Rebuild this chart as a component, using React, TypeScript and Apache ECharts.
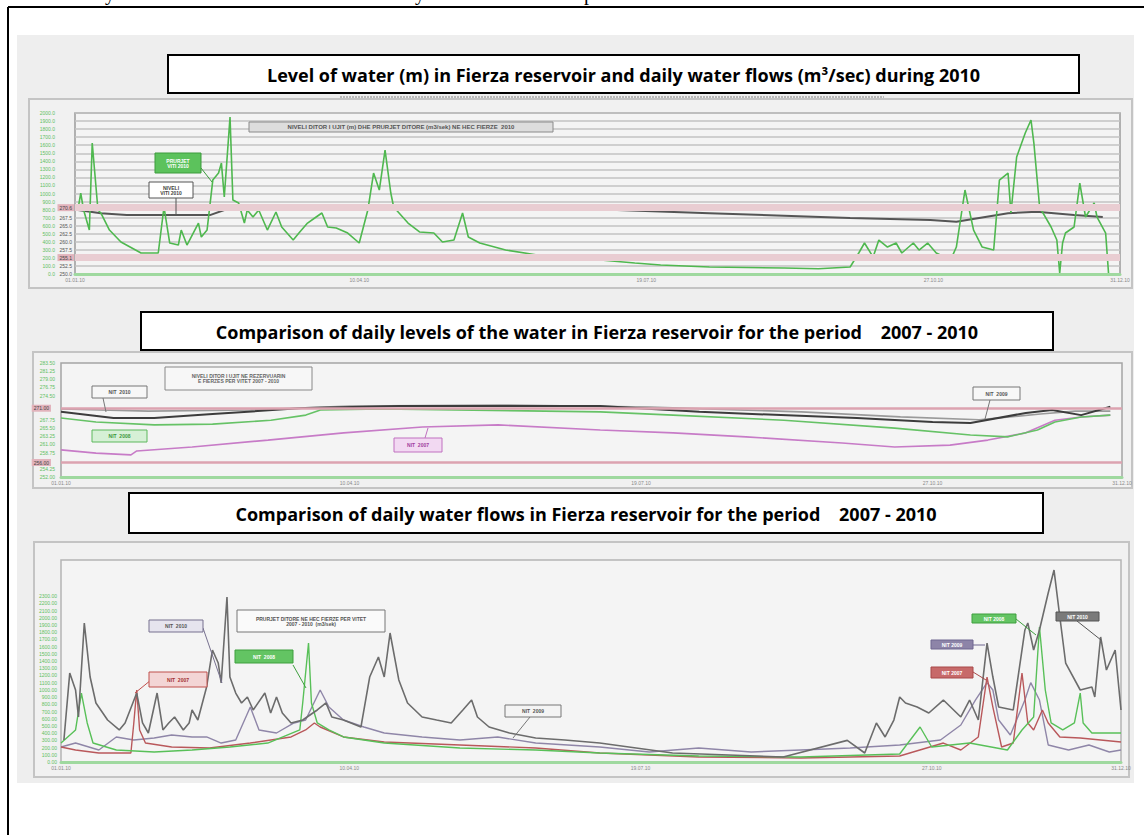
import React, { useEffect, useRef } from 'react';
import * as echarts from 'echarts';

// ---------- Chart 1: daily water flows (m3/sec) and water level (m), 2010 ----------
const flow2010Days = [2,3,4,6,7,9,10,13,17,24,30,32,34,37,38,40,44,45,47,49,51,52,53,55,56,58,60,61,63,65,68,71,73,77,79,82,85,87,89,92,96,100,103,105,107,109,111,112,117,121,126,129,133,136,138,142,151,162,171,184,196,205,222,235,248,260,271,274,276,279,281,284,287,289,293,295,298,301,306,308,311,314,317,321,323,326,327,329,332,334,335,337,341,343,344,345,346,349,351,353,356,357,360,361];
const flow2010Values = [795,1006,795,546,1627,795,758,546,397,261,261,832,385,360,546,360,633,459,546,1167,1254,1378,956,1950,919,882,633,795,708,795,546,770,584,422,509,633,708,758,584,571,509,385,795,1254,1043,1540,1006,832,633,522,509,397,422,758,459,385,298,236,211,174,137,112,87,81,75,65,87,261,385,211,422,335,385,261,385,298,385,261,174,335,1043,546,335,298,1167,1254,758,1453,1751,1913,1627,832,584,422,12,385,509,584,1130,708,882,708,509,12];
const level2010Days = [2,10,19,48,56,92,103,142,170,222,271,299,308,326,336,349,359];
const level2010Values = [269.9,268.9,268.3,268.3,270.8,270.8,271.1,271.1,270.5,268.9,267.4,266.8,266.2,268.9,269.3,268.3,267.7];
const chart1RefLevels = [270.6, 255.1];

// ---------- Chart 2: daily water levels (m), 2007 - 2010 ----------
const lv2010Days = [1,19,33,53,85,117,186,220,274,300,313,332,341,351,361];
const lv2010Values = [270.0,268.3,268.3,269.4,271.1,271.6,271.6,270.0,268.3,267.2,266.9,269.7,270.5,269.1,271.4];
const lv2009Days = [1,31,66,100,152,203,255,289,316,337,349,361];
const lv2009Values = [270.8,270.2,270.5,271.6,271.9,271.3,270.0,268.6,267.8,269.4,270.2,270.2];
const lv2008Days = [1,13,33,53,73,85,90,111,186,211,249,287,313,326,336,342,351,361];
const lv2008Values = [268.3,267.2,266.4,266.6,267.7,269.1,270.5,270.8,270.0,269.1,267.7,265.5,263.6,263.1,265.0,267.2,268.6,269.1];
const lv2007Days = [1,13,25,27,46,72,98,125,151,186,211,236,269,287,306,319,332,342,351,361];
const lv2007Values = [259.5,258.6,258.1,259.2,260.3,262.2,264.2,265.8,266.4,265.0,264.2,263.1,261.4,260.3,260.8,262.2,264.2,267.7,268.6,269.1];
const chart2RefLevels = [271, 256];

// ---------- Chart 3: daily water flows (m3/sec), 2007 - 2010 ----------
const q2010Days = [2,4,6,7,9,11,13,17,21,23,27,29,31,34,36,38,40,43,45,46,48,51,53,55,56,58,59,61,63,65,67,71,73,75,77,80,84,89,92,94,98,104,107,110,112,114,117,120,125,130,135,139,142,144,148,155,164,174,186,211,249,271,277,281,284,287,289,291,295,299,304,310,313,316,319,321,323,328,332,333,335,337,340,342,344,346,351,355,356,358,360,363,365];
const q2010Values = [305,1234,998,624,1927,1178,818,582,444,541,956,541,402,956,444,541,624,444,541,721,582,1040,1552,1372,1095,2287,1178,956,818,901,721,956,679,901,679,541,582,721,818,624,582,485,1178,1455,1178,1788,1137,818,624,582,541,721,859,624,485,402,333,305,263,125,69,300,125,541,347,582,901,818,762,679,859,624,859,582,1649,1178,762,721,1830,1927,1552,1830,2342,2661,2010,1372,998,1040,901,1733,1275,1552,721];
const q2009Days = [1,6,14,20,26,33,39,46,51,56,61,66,69,75,81,85,90,93,98,105,112,125,138,151,164,186,203,220,238,255,272,289,303,310,315,319,321,323,327,332,334,337,340,347,354,361,365];
const q2009Values = [208,263,166,347,305,333,374,347,347,263,305,762,444,402,541,582,998,762,582,485,402,347,305,347,263,208,139,194,139,166,194,236,305,513,859,1100,998,582,374,859,1100,859,236,166,236,139,166];
const q2007Days = [1,6,14,25,26,27,28,30,39,52,66,80,85,88,90,98,112,138,164,186,220,255,289,304,310,316,319,321,324,328,331,333,335,338,340,344,351,358,365];
const q2007Values = [208,166,125,125,541,998,444,263,208,194,263,347,444,541,485,347,277,236,194,125,69,55,83,263,166,347,1178,762,208,263,1234,541,444,721,541,347,333,305,277];
const q2008Days = [1,6,8,10,12,20,33,46,59,72,83,84,86,87,89,93,98,112,138,164,186,220,255,289,296,300,313,326,331,335,337,339,341,345,349,351,352,355,365];
const q2008Values = [263,444,956,541,263,166,139,166,208,263,444,818,1649,818,541,444,347,263,194,166,125,83,69,111,485,208,263,166,444,624,1871,998,541,444,541,956,541,402,402];

// ---------- texts ----------
const title1 = 'Level of water (m) in Fierza reservoir and daily water flows (m³/sec) during 2010';
const title2 = 'Comparison of daily levels of the water in Fierza reservoir for the period    2007 - 2010';
const title3 = 'Comparison of daily water flows in Fierza reservoir for the period    2007 - 2010';

const zip = (d: number[], v: number[]) => d.map((x, i) => [x, v[i]]);

const C = {
  g2010: '#4fb84f', lev: '#555555',
  l2010: '#3c3c3c', l2009: '#9a9a9a', l2008: '#66c266', l2007: '#c77bc7',
  f2010: '#6c6c6c', f2009: '#8f86a8', f2007: '#b9585b', f2008: '#58c058',
  pink: '#e9cdd2', axGreen: '#5fbf5f',
};

const box = (x: number, y: number, w: number, h: number, fill: string, stroke: string | null, lw = 1, z = -5) => ({
  type: 'rect', z, silent: true, shape: { x, y, width: w, height: h },
  style: { fill, stroke: stroke || undefined, lineWidth: stroke ? lw : 0 },
});
const txt = (x: number, y: number, text: string, font: string, fill: string, align = 'center', z = 60) => ({
  type: 'text', z, silent: true, x, y,
  style: { text, font, fill, align, verticalAlign: 'middle', textAlign: align, textVerticalAlign: 'middle' },
});
const seg = (x1: number, y1: number, x2: number, y2: number, stroke: string, lw = 1, z = 55, dash?: number[]) => ({
  type: 'line', z, silent: true, shape: { x1, y1, x2, y2 },
  style: { stroke, lineWidth: lw, lineDash: dash },
});
const tag = (x: number, y: number, w: number, h: number, text: string, fill: string, stroke: string, color: string, fs = 5) => [
  box(x, y, w, h, fill, stroke, 1, 58),
  txt(x + w / 2, y + h / 2, text, `bold ${fs}px "Liberation Sans"`, color),
];
const titleBox = (x: number, y: number, w: number, h: number, text: string) => [
  box(x, y, w, h, '#ffffff', '#000000', 2, 50),
  txt(x + w / 2, y + h / 2 + 1, text, 'bold 18px "Open Sans"', '#000000', 'center', 61),
];

const dayLabel = (v: number) => {
  const d = new Date(2010, 0, Math.round(v));
  return String(d.getDate()).padStart(2, '0') + '.' + String(d.getMonth() + 1).padStart(2, '0') + '.10';
};

const xAxisBase = (gridIndex: number) => ({
  type: 'value', gridIndex, min: 1, max: 365,
  axisLine: { show: true, lineStyle: { color: '#9fd99f', width: 3 } },
  axisTick: { show: false },
  splitLine: { show: false },
  axisLabel: { fontSize: 5, color: '#8a8a8a', margin: 3, formatter: dayLabel },
});

const refMarkLine = (vals: number[], width: number, color: string, labelDist: number, digits: number) => ({
  silent: true, symbol: 'none',
  lineStyle: { color, width, type: 'solid' },
  label: {
    show: true, position: 'start', distance: labelDist, fontSize: 5, color: '#444',
    backgroundColor: '#e2b3bc', padding: [1, 2], formatter: (p: any) => Number(p.value).toFixed(digits),
  },
  data: vals.map((v) => ({ yAxis: v })),
});

const nearRef = (v: number, refs: number[], tol: number) => refs.some((r) => Math.abs(v - r) < tol);

function buildOption() {
  const graphic: any[] = [
    // fragments of the text line above the figure
    txt(110, -7, 'y', '20px "Liberation Serif"', '#000', 'center', 70),
    txt(420, -7, 'y', '20px "Liberation Serif"', '#000', 'center', 70),
    txt(589, -7, 'p', '20px "Liberation Serif"', '#000', 'center', 70),
    // outer page frame
    seg(8, 7, 1144, 7, '#000', 2, 70),
    seg(8, 7, 8, 835, '#000', 2, 70),
    // grey scanned panel
    box(17, 35, 1117, 748, '#eeeeee', null, 0, -20),
    // chart frames
    box(29, 99, 1103, 189, '#f1f1f1', '#c4c4c4', 2, -10),
    box(33, 352, 1099, 136, '#f1f1f1', '#c4c4c4', 2, -10),
    box(34, 542, 1095, 235, '#f1f1f1', '#c4c4c4', 2, -10),
    // faint original sub-title line of chart 1
    seg(340, 97, 884, 97, '#b8b8b8', 2, 20, [2, 1]),
    ...titleBox(168, 55, 911, 38, title1),
    ...titleBox(141, 312, 912, 38, title2),
    ...titleBox(129, 493, 914, 40, title3),
    // chart 1 annotations
    ...tag(249, 122, 304, 10, 'NIVELI DITOR I UJIT (m) DHE PRURJET DITORE (m3/sek) NE HEC FIERZE  2010', '#dddddd', '#8a8a8a', '#555', 6),
    ...tag(155, 153, 46, 20, 'PRURJET\nVITI 2010', '#5cc25c', '#3d9b3d', '#ffffff'),
    seg(201, 168, 212, 182, '#3d9b3d', 1),
    ...tag(149, 182, 44, 16, 'NIVELI\nVITI 2010', '#ffffff', '#555555', '#444'),
    seg(176, 198, 176, 214, '#555555', 1),
    // chart 2 annotations
    ...tag(165, 367, 147, 23, 'NIVELI DITOR I UJIT NE REZERVUARIN\nE FIERZES PER VITET 2007 - 2010', '#f7f7f7', '#888888', '#666'),
    ...tag(92, 386, 55, 12, 'NIT  2010', '#f7f7f7', '#777777', '#555'),
    seg(103, 398, 106, 412, '#777777', 1),
    ...tag(92, 430, 55, 12, 'NIT  2008', '#d6f0d6', '#5cb85c', '#3c983c'),
    ...tag(394, 438, 48, 14, 'NIT  2007', '#f2d9f2', '#c070c0', '#a040a0'),
    seg(425, 438, 428, 428, '#c070c0', 1),
    ...tag(973, 387, 47, 13, 'NIT  2009', '#f7f7f7', '#777777', '#555'),
    seg(990, 400, 985, 419, '#777777', 1),
    // chart 3 annotations
    ...tag(237, 610, 148, 22, 'PRURJET DITORE NE HEC FIERZE PER VITET\n2007 - 2010  (m3/sek)', '#fafafa', '#777777', '#555'),
    ...tag(149, 620, 54, 12, 'NIT  2010', '#e6e4ee', '#77718f', '#555'),
    seg(203, 628, 222, 683, '#77718f', 1),
    ...tag(149, 672, 58, 15, 'NIT  2007', '#f3d5d5', '#c0504d', '#a33333'),
    seg(151, 680, 135, 693, '#c0504d', 1),
    ...tag(235, 650, 58, 13, 'NIT  2008', '#63c463', '#3e9f3e', '#ffffff'),
    seg(293, 665, 306, 688, '#3e9f3e', 1),
    ...tag(505, 705, 56, 12, 'NIT  2009', '#f4f4f4', '#777777', '#555'),
    seg(530, 717, 513, 738, '#777777', 1),
    ...tag(931, 640, 42, 9, 'NIT 2009', '#8d84a8', '#6f6690', '#ffffff'),
    seg(973, 645, 985, 645, '#6f6690', 1),
    ...tag(931, 667, 42, 11, 'NIT 2007', '#c76a6a', '#a84848', '#ffffff'),
    seg(973, 672, 986, 680, '#a84848', 1),
    ...tag(972, 614, 44, 9, 'NIT 2008', '#63c463', '#3e9f3e', '#ffffff'),
    seg(1016, 619, 1036, 635, '#3e9f3e', 1),
    ...tag(1056, 612, 43, 9, 'NIT 2010', '#7a7a7a', '#555555', '#ffffff'),
    seg(1077, 621, 1101, 640, '#555555', 1),
  ];

  const lineSeries = (name: string, xi: number, yi: number, data: number[][], color: string, width: number, z = 3, extra: any = {}) => ({
    name, type: 'line', xAxisIndex: xi, yAxisIndex: yi, data,
    symbol: 'none', showSymbol: false, smooth: false, z,
    lineStyle: { color, width }, itemStyle: { color }, ...extra,
  });

  return {
    animation: false,
    backgroundColor: '#ffffff',
    textStyle: { fontFamily: '"Liberation Sans", sans-serif' },
    graphic,
    grid: [
      { left: 75, top: 113, width: 1045, height: 161, show: true, backgroundColor: '#f4f4f4', borderColor: '#9a9a9a', borderWidth: 1.5 },
      { left: 61, top: 363, width: 1061, height: 114, show: true, backgroundColor: '#f4f4f4', borderColor: '#a4a4a4', borderWidth: 1.5 },
      { left: 61, top: 560, width: 1060, height: 202, show: true, backgroundColor: '#f4f4f4', borderColor: '#b4b4b4', borderWidth: 1.5 },
    ],
    xAxis: [xAxisBase(0), xAxisBase(1), xAxisBase(2)],
    yAxis: [
      {
        type: 'value', gridIndex: 0, min: 0, max: 2000, interval: 100, position: 'left',
        axisLine: { show: false }, axisTick: { show: false },
        splitLine: { show: true, lineStyle: { color: '#c3c3c3', width: 1.5 } },
        axisLabel: { fontSize: 5, color: C.axGreen, margin: 20, formatter: (v: number) => v.toFixed(1) },
      },
      {
        type: 'value', gridIndex: 0, min: 250, max: 300, interval: 2.5, position: 'left',
        axisLine: { show: false }, axisTick: { show: false }, splitLine: { show: false },
        axisLabel: {
          fontSize: 5, color: '#555', margin: 3,
          formatter: (v: number) => (v <= 272 && !nearRef(v, chart1RefLevels, 2) ? v.toFixed(1) : ''),
        },
      },
      {
        type: 'value', gridIndex: 1, min: 252, max: 283.5, interval: 2.25,
        axisLine: { show: false }, axisTick: { show: false }, splitLine: { show: false },
        axisLabel: {
          fontSize: 5, color: C.axGreen, margin: 6,
          formatter: (v: number) => (nearRef(v, chart2RefLevels, 1.6) ? '' : v.toFixed(2)),
        },
      },
      {
        type: 'value', gridIndex: 2, min: 0, max: 2800, interval: 100,
        axisLine: { show: false }, axisTick: { show: false }, splitLine: { show: false },
        axisLabel: { fontSize: 5, color: C.axGreen, margin: 4, formatter: (v: number) => (v <= 2300 ? v.toFixed(2) : '') },
      },
    ],
    series: [
      // chart 1
      lineSeries('Niveli 2010', 0, 1, zip(level2010Days, level2010Values), C.lev, 2, 3, {
        markLine: refMarkLine(chart1RefLevels, 7, C.pink, 1, 1),
      }),
      lineSeries('Prurjet 2010', 0, 0, zip(flow2010Days, flow2010Values), C.g2010, 1.6, 4),
      // chart 2
      lineSeries('Niveli 2007', 1, 2, zip(lv2007Days, lv2007Values), C.l2007, 1.6, 3, {
        markLine: refMarkLine(chart2RefLevels, 2.5, '#dca3b0', 10, 2),
      }),
      lineSeries('Niveli 2008', 1, 2, zip(lv2008Days, lv2008Values), C.l2008, 1.6, 3),
      lineSeries('Niveli 2009', 1, 2, zip(lv2009Days, lv2009Values), C.l2009, 1.6, 3),
      lineSeries('Niveli 2010', 1, 2, zip(lv2010Days, lv2010Values), C.l2010, 2, 4),
      // chart 3
      lineSeries('Prurjet 2009', 2, 3, zip(q2009Days, q2009Values), C.f2009, 1.4, 3),
      lineSeries('Prurjet 2007', 2, 3, zip(q2007Days, q2007Values), C.f2007, 1.4, 3),
      lineSeries('Prurjet 2008', 2, 3, zip(q2008Days, q2008Values), C.f2008, 1.4, 4),
      lineSeries('Prurjet 2010', 2, 3, zip(q2010Days, q2010Values), C.f2010, 1.6, 5),
    ],
  };
}

export default function App() {
  const ref = useRef<HTMLDivElement>(null);
  useEffect(() => {
    if (!ref.current) return;
    const chart = echarts.init(ref.current, undefined, { renderer: 'svg' });
    chart.setOption(buildOption() as any);
    return () => chart.dispose();
  }, []);
  return (
    <div
      ref={ref}
      style={{ position: 'fixed', left: 0, top: 0, width: 1144, height: 835, background: '#fff' }}
    />
  );
}
